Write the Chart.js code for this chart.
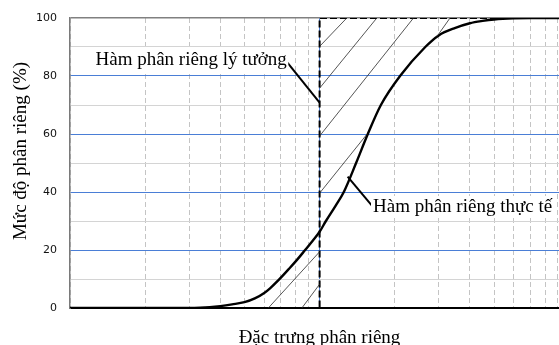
<!DOCTYPE html>
<html>
<head>
<meta charset="utf-8">
<script src="https://cdn.jsdelivr.net/npm/chart.js@4.4.1/dist/chart.umd.min.js"></script>
<style>
html,body{margin:0;padding:0;background:#fff;}
#wrap{position:relative;width:559px;height:345px;}
canvas{display:block;}
</style>
</head>
<body>
<div id="wrap"><canvas id="c" width="559" height="345" style="width:559px;height:345px"></canvas></div>
<script>
// ---- data ----
const xGridValues = [1,2,3,4,5,6,7,8,9,10,20,30,40,50,60,70,80,90];
const yGridValues = [0,10,20,30,40,50,60,70,80,90,100];
const yLabelValues = [0,20,40,60,80,100];

// actual separation function (Hàm phân riêng thực tế)
const actualX = [1, 2, 2.5, 3, 3.32, 3.63, 4, 4.46, 5, 5.5, 6, 6.33, 6.84, 7.5, 8.1, 8.75, 9.4, 10, 10.6, 11.6, 12.5, 14.0, 15.6, 17.6, 21, 26.5, 30, 35, 40, 45, 50, 60, 70, 91];
const actualY = [0, 0, 0, 0, 0.08, 0.28, 0.66, 1.25, 2.0, 3.3, 5.2, 6.8, 9.6, 13.3, 16.5, 20, 23.3, 26.3, 30, 35.3, 40, 50, 60, 70, 80, 90, 94, 96.6, 98.2, 99.0, 99.5, 99.9, 100, 100];

// ideal separation function (Hàm phân riêng lý tưởng)
const idealX = [1, 10, 10, 91];
const idealY = [0, 0, 100, 100];

// hatch segments between the two functions
const hatchX1 = [10, 10, 10, 10, 10, 10, 29.5];
const hatchY1 = [90.2, 75.8, 59.3, 39.6, 19.4, 8.2, 93.6];
const hatchX2 = [12.85, 16.95, 23.77, 15.5, 6.23, 8.49, 33.3];
const hatchY2 = [100, 100, 100, 60, 0, 0, 100];

// leader lines of the two labels
const leaderIdealX = [7.39, 10];
const leaderIdealY = [84.9, 70.8];
const leaderActualX = [12.95, 16.23];
const leaderActualY = [45.3, 35.2];

const labelIdeal = 'Hàm phân riêng lý tưởng';
const labelActual = 'Hàm phân riêng thực tế';
const yTitle = 'Mức độ phân riêng (%)';
const xTitle = 'Đặc trưng phân riêng';

// ---- build datasets ----
const pts = (xs, ys) => xs.map((x, i) => ({x: x, y: ys[i]}));
const datasets = [];
hatchX1.forEach((x, i) => {
  datasets.push({
    data: [{x: x, y: hatchY1[i]}, {x: hatchX2[i], y: hatchY2[i]}],
    borderColor: '#2a2a2a', borderWidth: 0.8, pointRadius: 0, tension: 0, fill: false
  });
});
datasets.push({
  data: pts(actualX, actualY),
  borderColor: '#000', borderWidth: 2.4, pointRadius: 0,
  cubicInterpolationMode: 'monotone', fill: false
});
datasets.push({
  data: pts(idealX, idealY),
  borderColor: '#000', borderWidth: 2, borderDash: [7, 3], pointRadius: 0, tension: 0, fill: false
});
datasets.push({
  data: pts(leaderIdealX, leaderIdealY),
  borderColor: '#000', borderWidth: 2, pointRadius: 0, tension: 0, fill: false
});
datasets.push({
  data: pts(leaderActualX, leaderActualY),
  borderColor: '#000', borderWidth: 2, pointRadius: 0, tension: 0, fill: false
});

const BLUE = '#4a7ed6';
const yGridColors = yGridValues.map(v => v === 0 ? '#000' : (v === 100 ? '#808080' : (v % 20 === 0 ? BLUE : '#d4d4d4')));

const textPlugin = {
  id: 'texts',
  afterDraw(chart) {
    const c = chart.ctx;
    c.save();
    c.font = '19px "Liberation Serif", "Times New Roman", serif';
    c.fillStyle = '#000';
    c.textBaseline = 'alphabetic';
    c.textAlign = 'left';
    let w = c.measureText(labelIdeal).width;
    c.fillStyle = '#fff';
    c.fillRect(93, 50, w + 4, 22);
    c.fillStyle = '#000';
    c.fillText(labelIdeal, 95.5, 65.3);
    w = c.measureText(labelActual).width;
    c.fillStyle = '#fff';
    c.fillRect(371, 196, w + 4, 22);
    c.fillStyle = '#000';
    c.fillText(labelActual, 373, 211.7);
    c.textAlign = 'center';
    c.fillText(xTitle, 319.5, 342.5);
    c.translate(26.3, 151);
    c.rotate(-Math.PI / 2);
    c.fillText(yTitle, 0, 0);
    c.restore();
  }
};

new Chart(document.getElementById('c'), {
  type: 'line',
  data: {datasets: datasets},
  plugins: [textPlugin],
  options: {
    responsive: false,
    animation: false,
    devicePixelRatio: 1,
    layout: {padding: {top: 18, right: 0, bottom: 0, left: 0}},
    plugins: {legend: {display: false}, tooltip: {enabled: false}, title: {display: false}},
    elements: {line: {borderCapStyle: 'butt'}},
    scales: {
      x: {
        type: 'logarithmic',
        min: 1, max: 91,
        afterBuildTicks: s => { s.ticks = xGridValues.map(v => ({value: v})); },
        afterFit: s => { s.height = 37; s.paddingLeft = 0; s.paddingRight = 0; },
        ticks: {display: false},
        grid: {
          drawTicks: false,
          lineWidth: 1,
          color: ctx => (xGridValues[ctx.index] === 10) ? BLUE : '#c4c4c4'
        },
        border: {
          display: true, color: '#000', width: 1.5,
          dash: ctx => (xGridValues[ctx.index] === 10) ? [] : [5, 3]
        }
      },
      y: {
        min: 0, max: 100,
        afterBuildTicks: s => { s.ticks = yGridValues.map(v => ({value: v})); },
        afterFit: s => { s.width = 70; s.paddingTop = 0; s.paddingBottom = 0; },
        ticks: {
          autoSkip: false,
          padding: 13,
          color: '#111',
          font: {family: 'DejaVu Sans', size: 11},
          callback: v => yLabelValues.includes(v) ? String(v) : ''
        },
        grid: {
          drawTicks: false,
          lineWidth: ctx => (yGridValues[ctx.index] === 100) ? 1.5 : 1,
          color: ctx => yGridColors[ctx.index] || '#d4d4d4'
        },
        border: {display: true, color: '#7a7a7a', width: 1.5}
      }
    }
  }
});
</script>
</body>
</html>
